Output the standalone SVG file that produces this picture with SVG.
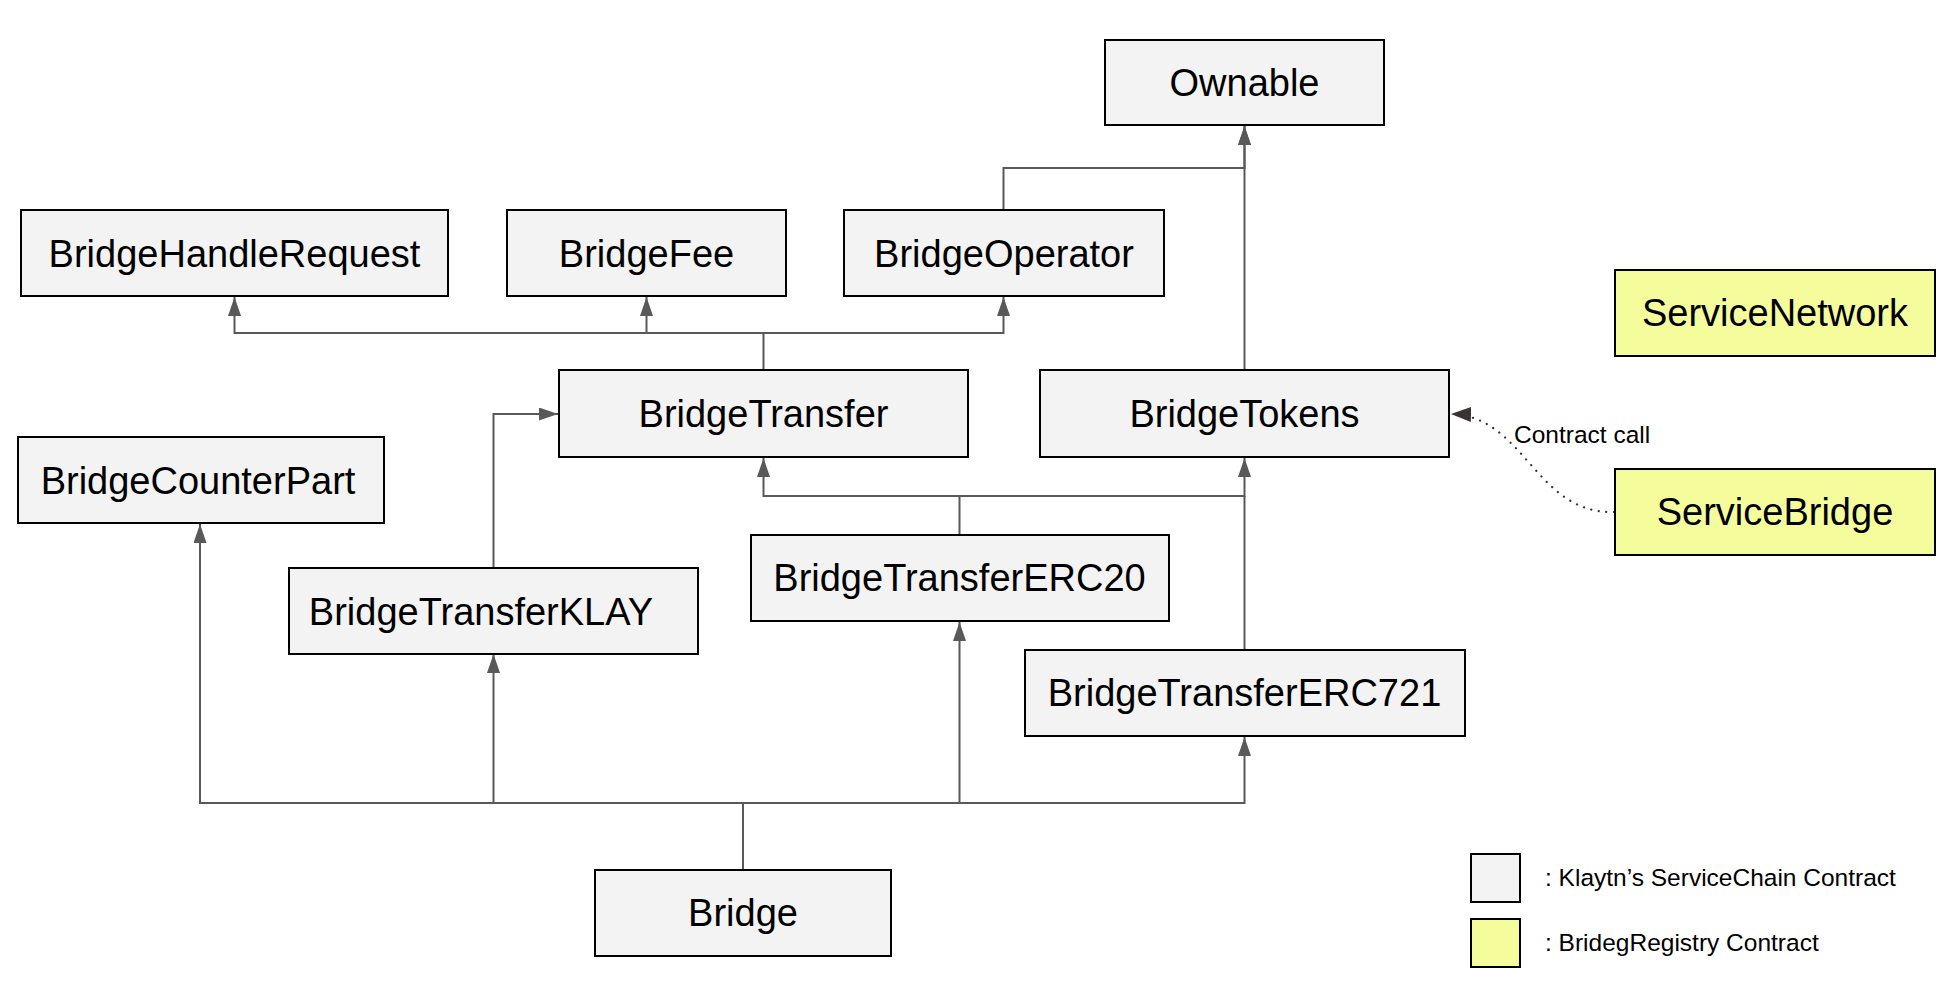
<svg xmlns="http://www.w3.org/2000/svg" width="1952" height="984" viewBox="0 0 1952 984">
<style>
.box{fill:#f3f3f3;stroke:#000;stroke-width:2}
.yel{fill:#f4fc9c;stroke:#000;stroke-width:2}
.lbl{font-family:"Liberation Sans",Arial,sans-serif;font-size:38px;fill:#000;text-anchor:middle}
.small{font-family:"Liberation Sans",Arial,sans-serif;font-size:24.5px;fill:#000}
.conn{fill:none;stroke:#595959;stroke-width:2;marker-end:url(#arr)}
.line{fill:none;stroke:#595959;stroke-width:2}
.dot{fill:none;stroke:#3a3330;stroke-width:2.2;stroke-linecap:round;stroke-dasharray:0.1 7.5;marker-end:url(#arrd)}
</style>
<defs>
<marker id="arr" markerUnits="userSpaceOnUse" markerWidth="20" markerHeight="14" refX="19" refY="6.5" orient="auto">
<path d="M0,0 L19,6.5 L0,13 z" fill="#595959"/>
</marker>
<marker id="arrd" markerUnits="userSpaceOnUse" markerWidth="22" markerHeight="16" refX="20" refY="7.5" orient="auto">
<path d="M0,0 L20,7.5 L0,15 z" fill="#3a3330"/>
</marker>
</defs>
<rect width="1952" height="984" fill="#fff"/>
<g id="connectors">
<path class="conn" d="M763.5,370 V333 H234.5 V297"/>
<path class="conn" d="M763.5,333 H646.5 V297"/>
<path class="conn" d="M763.5,333 H1003.5 V297"/>
<path class="conn" d="M1003.5,210 V168 H1244.5 V126"/>
<path class="conn" d="M1244.5,370 V126"/>
<path class="conn" d="M493.5,568 V414 H558"/>
<path class="conn" d="M959.5,535 V496 H763.5 V458"/>
<path class="conn" d="M959.5,496 H1244.5 V458"/>
<path class="line" d="M1244.5,650 V496"/>
<path class="conn" d="M743,870 V803 H200 V524"/>
<path class="conn" d="M743,803 H493.5 V654"/>
<path class="conn" d="M743,803 H959.5 V622"/>
<path class="conn" d="M743,803 H1244.5 V737"/>
<path class="dot" d="M1614,512 C1535,514 1525,416 1451,414"/>
<text class="small" x="1514" y="443">Contract call</text>
</g>
<g id="Ownable"><rect class="box" x="1105" y="40" width="279" height="85"/><text class="lbl" x="1244.5" y="96">Ownable</text></g>
<g id="BridgeHandleRequest"><rect class="box" x="21" y="210" width="427" height="86"/><text class="lbl" x="234.5" y="267">BridgeHandleRequest</text></g>
<g id="BridgeFee"><rect class="box" x="507" y="210" width="279" height="86"/><text class="lbl" x="646.5" y="267">BridgeFee</text></g>
<g id="BridgeOperator"><rect class="box" x="844" y="210" width="320" height="86"/><text class="lbl" x="1004" y="267">BridgeOperator</text></g>
<g id="ServiceNetwork"><rect class="yel" x="1615" y="270" width="320" height="86"/><text class="lbl" x="1775" y="326">ServiceNetwork</text></g>
<g id="BridgeTransfer"><rect class="box" x="559" y="370" width="409" height="87"/><text class="lbl" x="763.5" y="427">BridgeTransfer</text></g>
<g id="BridgeTokens"><rect class="box" x="1040" y="370" width="409" height="87"/><text class="lbl" x="1244.5" y="427">BridgeTokens</text></g>
<g id="BridgeCounterPart"><rect class="box" x="18" y="437" width="366" height="86"/><text class="lbl" x="198" y="494">BridgeCounterPart</text></g>
<g id="ServiceBridge"><rect class="yel" x="1615" y="469" width="320" height="86"/><text class="lbl" x="1775" y="525">ServiceBridge</text></g>
<g id="BridgeTransferKLAY"><rect class="box" x="289" y="568" width="409" height="86"/><text class="lbl" x="481" y="625">BridgeTransferKLAY</text></g>
<g id="BridgeTransferERC20"><rect class="box" x="751" y="535" width="418" height="86"/><text class="lbl" x="959.5" y="591">BridgeTransferERC20</text></g>
<g id="BridgeTransferERC721"><rect class="box" x="1025" y="650" width="440" height="86"/><text class="lbl" x="1244.5" y="706">BridgeTransferERC721</text></g>
<g id="Bridge"><rect class="box" x="595" y="870" width="296" height="86"/><text class="lbl" x="743" y="926">Bridge</text></g>
<g id="legend">
<rect class="box" x="1471" y="854" width="49" height="48"/>
<text class="small" x="1545" y="886">: Klaytn’s ServiceChain Contract</text>
<rect class="yel" x="1471" y="919" width="49" height="48"/>
<text class="small" x="1545" y="951">: BridegRegistry Contract</text>
</g>
</svg>
